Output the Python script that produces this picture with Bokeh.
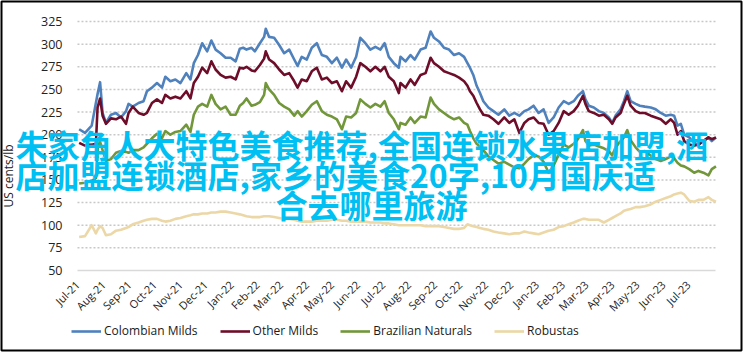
import math
import pandas as pd
from bokeh.plotting import figure
from bokeh.models import (Range1d, DatetimeTickFormatter, FixedTicker,
                          Legend, LegendItem, Label)
from bokeh.embed import file_html
from bokeh.resources import INLINE

start_date = "2021-07-01"

days = [2, 9, 17, 22, 24, 27, 30, 34, 40, 46, 52, 58, 61, 66, 73, 79, 83, 89, 95, 101,
        105, 111, 117, 123, 130, 135, 139, 144, 149, 155, 160, 165, 171, 177, 183, 189, 194, 198, 202, 208,
        212, 218, 223, 225, 229, 235, 241, 247, 253, 259, 263, 268, 274, 280, 286, 292, 298, 304, 310, 316,
        321, 327, 333, 338, 344, 350, 356, 362, 367, 372, 378, 384, 386, 392, 398, 403, 410, 416, 422, 426,
        432, 438, 444, 450, 456, 462, 466, 469, 473, 477, 481, 485, 491, 497, 503, 510, 516, 522, 528, 534,
        539, 545, 551, 557, 563, 569, 575, 581, 587, 593, 598, 604, 607, 611, 617, 623, 629, 635, 639, 643,
        649, 653, 657, 661, 667, 672, 678, 685, 691, 697, 703, 709, 713, 717, 721, 725, 731, 737, 742, 748,
        754, 758, 763]

colombian_milds = [206, 202, 210, 235, 245, 258, 224, 213, 222, 224, 219, 226, 234, 231, 235, 237, 248, 252, 257, 252,
                   264, 259, 261, 257, 268, 261, 279, 288, 301, 292, 304, 294, 290, 285, 285, 281, 295, 296, 294, 296,
                   292, 301, 308, 317, 308, 307, 299, 290, 294, 283, 276, 286, 283, 296, 301, 288, 286, 279, 285, 274,
                   283, 274, 286, 307, 301, 294, 297, 294, 301, 286, 279, 274, 286, 281, 288, 283, 294, 296, 314, 307,
                   303, 296, 294, 288, 290, 286, 279, 274, 266, 254, 246, 237, 230, 226, 222, 228, 221, 224, 221, 226,
                   228, 232, 224, 228, 213, 219, 230, 237, 234, 237, 243, 248, 239, 232, 230, 226, 224, 219, 213, 221,
                   228, 237, 248, 237, 234, 232, 231, 230, 228, 224, 221, 222, 221, 210, 212, 200, 197, 191, 189, 193,
                   197, 193, 197]

other_milds = [191, 188, 189, 190, 230, 240, 221, 212, 218, 217, 220, 212, 224, 231, 224, 222, 224, 235, 239, 235,
               244, 240, 242, 240, 248, 240, 257, 264, 274, 268, 281, 272, 266, 263, 264, 261, 274, 273, 275, 271,
               270, 277, 284, 292, 283, 279, 272, 266, 268, 259, 252, 261, 259, 270, 274, 261, 263, 257, 259, 248,
               259, 252, 264, 279, 275, 270, 275, 270, 275, 264, 259, 246, 257, 252, 261, 255, 266, 268, 285, 279,
               275, 270, 268, 266, 263, 259, 254, 248, 243, 235, 228, 222, 221, 217, 212, 219, 213, 217, 202, 213,
               217, 219, 213, 212, 200, 204, 213, 226, 222, 226, 232, 243, 234, 226, 224, 221, 222, 217, 212, 219,
               224, 234, 243, 232, 226, 224, 224, 221, 219, 217, 212, 217, 213, 200, 204, 193, 189, 188, 189, 193,
               197, 195, 197]

brazilian_naturals = [146, 147, 149, 152, 185, 192, 183, 171, 173, 180, 182, 181, 180, 183, 183, 186, 190, 196, 201, 196,
                      204, 200, 203, 204, 211, 203, 222, 231, 234, 231, 244, 234, 228, 231, 222, 222, 232, 235, 240, 232,
                      233, 236, 244, 257, 250, 244, 235, 231, 228, 221, 226, 220, 226, 233, 237, 226, 222, 220, 217, 206,
                      220, 219, 224, 239, 234, 230, 234, 231, 237, 224, 217, 206, 213, 211, 219, 213, 220, 219, 241, 234,
                      228, 224, 220, 217, 219, 213, 211, 204, 196, 190, 187, 183, 176, 172, 168, 170, 167, 164, 163, 168,
                      173, 177, 176, 170, 158, 166, 178, 189, 186, 190, 195, 205, 193, 188, 189, 187, 185, 182, 177, 186,
                      193, 197, 205, 194, 186, 181, 182, 177, 173, 171, 173, 176, 174, 169, 166, 165, 162, 158, 160, 158,
                      155, 162, 165]

robustas = [87, 88, 100, 91, 95, 99, 97, 89, 90, 94, 95, 97, 98, 101, 103, 105, 106, 107, 107, 105,
            104, 105, 107, 108, 110, 111, 112, 112, 113, 113, 114, 114, 115, 115, 114, 113, 112, 111, 110, 109,
            109, 109, 110, 110, 110, 109, 108, 107, 107, 106, 105, 104, 104, 104, 105, 105, 105, 106, 106, 105,
            105, 104, 104, 104, 104, 103, 103, 103, 102, 102, 101, 100, 100, 100, 100, 100, 100, 99, 99, 99,
            99, 98, 97, 96, 96, 97, 101, 100, 99, 98, 97, 96, 95, 93, 92, 91, 90, 91, 91, 93,
            92, 91, 90, 92, 94, 95, 98, 99, 101, 103, 105, 107, 107, 106, 106, 106, 103, 106, 108, 110,
            113, 116, 117, 118, 120, 120, 121, 123, 126, 128, 130, 132, 134, 135, 136, 134, 127, 126, 128, 128,
            131, 128, 126]

series_names = ["Colombian Milds", "Other Milds", "Brazilian Naturals", "Robustas"]
series_colors = ["#4f81bd", "#6e0d29", "#71973a", "#ecd7a6"]
y_ticks = [50, 75, 100, 125, 150, 175, 200, 225, 250, 275, 300, 325]
x_tick_months = ["2021-07-01", "2021-08-01", "2021-09-01", "2021-10-01", "2021-11-01", "2021-12-01",
                 "2022-01-01", "2022-02-01", "2022-03-01", "2022-04-01", "2022-05-01", "2022-06-01",
                 "2022-07-01", "2022-08-01", "2022-09-01", "2022-10-01", "2022-11-01", "2022-12-01",
                 "2023-01-01", "2023-02-01", "2023-03-01", "2023-04-01", "2023-05-01", "2023-06-01",
                 "2023-07-01"]
y_label = "US cents/lb"
overlay_lines = ["朱家角人大特色美食推荐,全国连锁水果店加盟,酒",
                 "店加盟连锁酒店,家乡的美食20字,10月国庆适",
                 "合去哪里旅游"]

t0 = pd.Timestamp(start_date)
dates = [t0 + pd.Timedelta(days=d) for d in days]
x_first, x_last = t0, dates[-1]
y_floor = y_ticks[0]

def ms(ts):
    return ts.timestamp() * 1000.0

# the frame covers the whole canvas; its outline is the chart border
p = figure(width=743, height=352, x_axis_type="datetime",
           x_range=Range1d(t0 - pd.Timedelta(days=90.8), t0 + pd.Timedelta(days=793.5)),
           y_range=Range1d(-38.35, 347.1),
           output_backend="svg", toolbar_location=None,
           min_border_left=1, min_border_right=2, min_border_top=1, min_border_bottom=2)
p.outline_line_color = "black"
p.outline_line_width = 2
p.background_fill_color = "white"
p.border_fill_color = "white"
p.xgrid.visible = False
p.ygrid.visible = False

# dotted horizontal gridlines over the data span
p.segment(x0=[x_first] * (len(y_ticks) - 1), x1=[x_last] * (len(y_ticks) - 1),
          y0=y_ticks[1:], y1=y_ticks[1:], line_color="#c8c8c8", line_dash="2 2", line_width=1.5)

renderers = []
for vals, col in zip([colombian_milds, other_milds, brazilian_naturals, robustas], series_colors):
    r = p.line(dates, vals, line_color=col, line_width=2.6, line_join="round")
    renderers.append(r)

# x axis sits on the 50 line
xa = p.xaxis[0]
xa.fixed_location = y_floor
xa.bounds = (ms(x_first), ms(x_last))
xa.ticker = FixedTicker(ticks=[ms(pd.Timestamp(m)) for m in x_tick_months])
fmt = "%b-%y"
xa.formatter = DatetimeTickFormatter(milliseconds=fmt, seconds=fmt, minsec=fmt, minutes=fmt,
                                     hourmin=fmt, hours=fmt, days=fmt, months=fmt, years=fmt)
xa.major_label_orientation = math.pi / 4
xa.axis_line_color = "#d9d9d9"
xa.axis_line_width = 1.5
xa.major_tick_line_color = None
xa.minor_tick_line_color = None
xa.major_label_text_font = "Open Sans"
xa.major_label_text_font_size = "11px"
xa.major_label_text_color = "#222222"
xa.major_label_standoff = 6

ya = p.yaxis[0]
ya.fixed_location = ms(x_first)
ya.ticker = FixedTicker(ticks=y_ticks)
ya.axis_line_color = None
ya.major_tick_line_color = None
ya.minor_tick_line_color = None
ya.major_label_text_font = "Open Sans"
ya.major_label_text_font_size = "12.5px"
ya.major_label_text_color = "#222222"
ya.major_label_standoff = 9
ya.axis_label = y_label
ya.axis_label_text_font = "Open Sans"
ya.axis_label_text_font_size = "12px"
ya.axis_label_text_font_style = "normal"
ya.axis_label_text_color = "#222222"
ya.axis_label_standoff = 21

legend = Legend(items=[LegendItem(label=n, renderers=[r]) for n, r in zip(series_names, renderers)],
                orientation="horizontal", location=(70, 11))
legend.border_line_color = None
legend.background_fill_alpha = 0
legend.padding = 0
legend.margin = 0
legend.glyph_width = 30
legend.glyph_height = 16
legend.label_standoff = 3
legend.spacing = 22
legend.label_text_font = "Open Sans"
legend.label_text_font_size = "12px"
legend.label_text_color = "#1a1a1a"
p.add_layout(legend, "center")

# overlay text, positions relative to the frame (screen px from its bottom-left)
for i, txt in enumerate(overlay_lines):
    last = i == len(overlay_lines) - 1
    p.add_layout(Label(x=370 if last else 14, y=207 - 30 * i,
                       x_units="screen", y_units="screen",
                       text=txt, text_align="center" if last else "left",
                       text_baseline="middle",
                       text_font="Noto Sans CJK SC", text_font_style="bold",
                       text_font_size="32px", text_color="#00bff2"))

open("out.html", "w").write(file_html(p, INLINE))
